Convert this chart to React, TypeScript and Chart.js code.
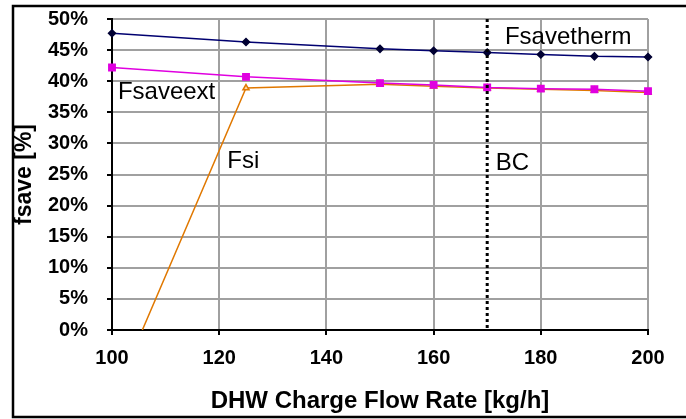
import React, { useEffect, useRef } from "react";
import { Chart, registerables } from "chart.js";

Chart.register(...registerables);

const flowRates = [100, 125, 150, 160, 170, 180, 190, 200];
const fsavetherm = [47.7, 46.3, 45.2, 44.9, 44.6, 44.3, 44.0, 43.9];
const fsaveext = [42.2, 40.7, 39.7, 39.4, 39.0, 38.8, 38.7, 38.4];
const fsi = [-11.4, 38.9, 39.5, 39.2, 38.9, 38.7, 38.5, 38.2];

const xTicks = [100, 120, 140, 160, 180, 200];
const yTicks = [0, 5, 10, 15, 20, 25, 30, 35, 40, 45, 50];

const bcFlow = 170;
const labelTexts = ["Fsavetherm", "Fsaveext", "Fsi", "BC"];
const labelX = [173.3, 101.1, 121.5, 171.6];
const labelY = [46.0, 37.1, 26.0, 25.7];

const FONT = "'Liberation Sans', Arial, Helvetica, sans-serif";

const overlayPlugin = {
  id: "overlay",
  afterDatasetsDraw(chart: any) {
    const { ctx, scales, chartArea } = chart;
    const xs = scales.x;
    const ys = scales.y;
    ctx.save();
    const bx = xs.getPixelForValue(bcFlow);
    ctx.strokeStyle = "#000";
    ctx.lineWidth = 3;
    ctx.setLineDash([3, 3]);
    ctx.beginPath();
    ctx.moveTo(bx, chartArea.top);
    ctx.lineTo(bx, chartArea.bottom);
    ctx.stroke();
    ctx.setLineDash([]);
    ctx.fillStyle = "#000";
    ctx.font = `24px ${FONT}`;
    ctx.textBaseline = "alphabetic";
    ctx.textAlign = "left";
    labelTexts.forEach((t, i) => {
      ctx.fillText(t, xs.getPixelForValue(labelX[i]), ys.getPixelForValue(labelY[i]));
    });
    ctx.lineWidth = 2.5;
    ctx.beginPath();
    ctx.moveTo(686, 6);
    ctx.lineTo(13, 6);
    ctx.lineTo(13, 417);
    ctx.lineTo(686, 417);
    ctx.stroke();
    ctx.restore();
  },
};

export default function App() {
  const ref = useRef<HTMLCanvasElement>(null);
  useEffect(() => {
    document.body.style.margin = "0";
    const canvas = ref.current!;
    const toXY = (arr: number[]) => flowRates.map((x, i) => ({ x, y: arr[i] }));
    const chart = new Chart(canvas, {
      type: "line",
      data: {
        datasets: [
          {
            label: "Fsavetherm",
            data: toXY(fsavetherm),
            borderColor: "#000070",
            backgroundColor: "#000033",
            pointBorderColor: "#000033",
            borderWidth: 1.5,
            pointStyle: "rectRot",
            pointRadius: 3.5,
            clip: false,
          },
          {
            label: "Fsaveext",
            data: toXY(fsaveext),
            borderColor: "#E000E0",
            backgroundColor: "#E000E0",
            pointBorderColor: "#E000E0",
            borderWidth: 1.5,
            pointStyle: "rect",
            pointRadius: 4.5,
            clip: false,
          },
          {
            label: "Fsi",
            data: toXY(fsi),
            borderColor: "#E07800",
            backgroundColor: "#FFD9A8",
            pointBorderColor: "#E07800",
            borderWidth: 1.5,
            pointStyle: "triangle",
            pointRadius: fsi.map((v) => (v < 0 ? 0 : 3.5)),
            clip: { left: 10, top: 10, right: 10, bottom: 0 },
          },
        ],
      },
      options: {
        animation: false,
        responsive: false,
        layout: { padding: { left: 0, right: 38, top: 19, bottom: 3 } },
        plugins: { legend: { display: false }, tooltip: { enabled: false } },
        scales: {
          x: {
            type: "linear",
            min: 100,
            max: 200,
            afterFit: (s: any) => {
              s.height = 86;
            },
            afterBuildTicks: (s: any) => {
              s.ticks = xTicks.map((v) => ({ value: v }));
            },
            grid: { color: "#A0A0A0", lineWidth: 2, tickLength: 5, tickColor: "#000" },
            border: { color: "#000", width: 2 },
            ticks: {
              color: "#000",
              padding: 11,
              font: { family: FONT, size: 20, weight: "bold" },
            },
            title: {
              display: true,
              text: "DHW Charge Flow Rate [kg/h]",
              color: "#000",
              padding: { top: 0, bottom: 0 },
              font: { family: FONT, size: 24, weight: "bold" },
            },
          },
          y: {
            min: 0,
            max: 50,
            afterFit: (s: any) => {
              s.width = 112;
              s.paddingTop = 12;
              s.paddingBottom = 12;
            },
            afterBuildTicks: (s: any) => {
              s.ticks = yTicks.map((v) => ({ value: v }));
            },
            grid: { color: "#A0A0A0", lineWidth: 2, tickLength: 5, tickColor: "#000" },
            border: { color: "#000", width: 2 },
            ticks: {
              color: "#000",
              padding: 19,
              font: { family: FONT, size: 20, weight: "bold" },
              callback: (v: any) => `${v}%`,
            },
            title: {
              display: true,
              text: "fsave [%]",
              color: "#000",
              padding: { top: 11, bottom: 0 },
              font: { family: FONT, size: 23, weight: "bold" },
            },
          },
        },
      },
      plugins: [overlayPlugin],
    } as any);
    return () => chart.destroy();
  }, []);
  return (
    <canvas ref={ref} width={686} height={419} style={{ display: "block", width: 686, height: 419 }} />
  );
}
